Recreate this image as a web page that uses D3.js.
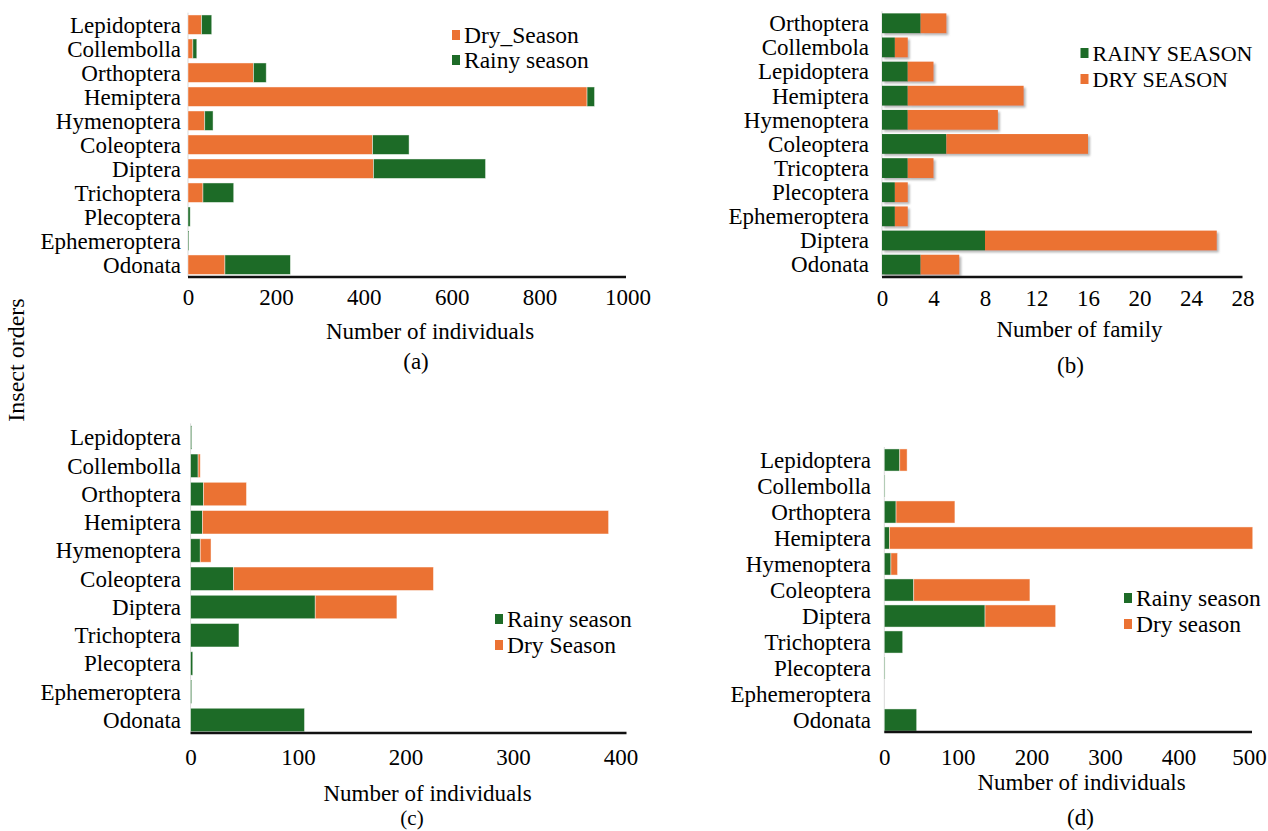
<!DOCTYPE html>
<html>
<head>
<meta charset="utf-8">
<script src="https://cdn.jsdelivr.net/npm/d3@7"></script>
<style>
  html, body { margin: 0; padding: 0; background: #fff; }
  svg { display: block; }
  text { font-family: "Liberation Serif", "DejaVu Serif", "Times New Roman", serif; fill: #000; }
</style>
</head>
<body>
<svg id="chart" width="1268" height="831"></svg>
<script>
// ---- Panel (a): total individuals per order ----
const ordersA = ["Lepidoptera", "Collembolla", "Orthoptera", "Hemiptera", "Hymenoptera",
  "Coleoptera", "Diptera", "Trichoptera", "Plecoptera", "Ephemeroptera", "Odonata"];
const dryA   = [31, 11, 149, 908, 38, 420, 422, 34, 0, 0, 84];
const rainyA = [23, 9, 29, 17, 19, 83, 255, 70, 5, 2, 149];
const ticksA = [0, 200, 400, 600, 800, 1000];

// ---- Panel (b): number of families per order ----
const ordersB = ["Orthoptera", "Collembola", "Lepidoptera", "Hemiptera", "Hymenoptera",
  "Coleoptera", "Tricoptera", "Plecoptera", "Ephemeroptera", "Diptera", "Odonata"];
const rainyB = [3, 1, 2, 2, 2, 5, 2, 1, 1, 8, 3];
const dryB   = [2, 1, 2, 9, 7, 11, 2, 1, 1, 18, 3];
const ticksB = [0, 4, 8, 12, 16, 20, 24, 28];

// ---- Panel (c): individuals, first site ----
const ordersC = ordersA;
const rainyC = [1, 7, 12, 11, 9, 40, 116, 45, 2, 1, 106];
const dryC   = [0, 2, 40, 378, 10, 186, 76, 0, 0, 0, 0];
const ticksC = [0, 100, 200, 300, 400];

// ---- Panel (d): individuals, second site ----
const ordersD = ordersA;
const rainyD = [21, 1, 16, 7, 9, 40, 137, 25, 1, 0, 44];
const dryD   = [10, 0, 80, 494, 9, 158, 96, 0, 0, 0, 0];
const ticksD = [0, 100, 200, 300, 400, 500];

const ORANGE = "#EB7233";
const GREEN = "#1D6B27";
const SERIF = '"Liberation Serif", "DejaVu Serif", "Times New Roman", serif';

const svg = d3.select("#chart");

// soft drop shadow used by panel (b)
const defs = svg.append("defs");
const shadow = defs.append("filter").attr("id", "barShadow")
  .attr("x", "-5%").attr("y", "-20%").attr("width", "115%").attr("height", "160%");
shadow.append("feDropShadow").attr("dx", 2).attr("dy", 2)
  .attr("stdDeviation", 1.2).attr("flood-color", "#7a7a7a").attr("flood-opacity", 0.55);

function drawPanel(cfg) {
  const g = svg.append("g");
  const rows = cfg.orders.map((name, i) => {
    const r = { name };
    cfg.series.forEach(s => { r[s.key] = s.values[i]; });
    return r;
  });
  const keys = cfg.series.map(s => s.key);
  const colorOf = Object.fromEntries(cfg.series.map(s => [s.key, s.color]));
  const stacked = d3.stack().keys(keys)(rows);

  const x = d3.scaleLinear().domain([0, cfg.max]).range([cfg.x0, cfg.x1]);
  const y = d3.scaleBand().domain(cfg.orders).range([cfg.yTop, cfg.yBottom])
    .paddingInner(cfg.pad).paddingOuter(cfg.pad / 2);

  // light vertical axis
  g.append("line")
    .attr("x1", x(0)).attr("x2", x(0))
    .attr("y1", cfg.yTop).attr("y2", cfg.yBottom)
    .attr("stroke", "#d9d9d9").attr("stroke-width", 1);

  const bars = g.append("g");
  if (cfg.shadow) bars.attr("filter", "url(#barShadow)");
  stacked.forEach(layer => {
    bars.append("g").attr("fill", colorOf[layer.key])
      .selectAll("rect").data(layer).join("rect")
      .attr("x", d => x(d[0]))
      .attr("y", d => y(d.data.name))
      .attr("width", d => Math.max(0, x(d[1]) - x(d[0])))
      .attr("height", y.bandwidth())
      .attr("stroke", cfg.shadow ? "none" : "rgba(255,255,255,0.55)")
      .attr("stroke-width", 0.8);
  });

  // category labels
  const yAxis = d3.axisLeft(y).tickSize(0).tickPadding(0);
  const ya = g.append("g").attr("transform", `translate(${cfg.labelRight},0)`).call(yAxis);
  ya.select(".domain").remove();
  ya.selectAll("text")
    .style("font-family", SERIF)
    .style("font-size", "23px").attr("fill", "#000").attr("dy", "0.34em");

  // bottom axis: heavy baseline, no tick marks
  const xAxis = d3.axisBottom(x).tickValues(cfg.ticks).tickSize(0).tickPadding(0)
    .tickFormat(d3.format("d"));
  const xa = g.append("g").attr("transform", `translate(0,${cfg.axisY})`).call(xAxis);
  xa.select(".domain").remove();
  xa.selectAll("text")
    .style("font-family", SERIF)
    .style("font-size", "23px").attr("fill", "#000")
    .attr("y", cfg.tickBase - cfg.axisY).attr("dy", 0);
  if (cfg.lastTickShift) {
    xa.selectAll(".tick").filter(d => d === cfg.max).select("text")
      .attr("dx", cfg.lastTickShift);
  }
  g.append("line")
    .attr("x1", x(0)).attr("x2", cfg.axisEnd)
    .attr("y1", cfg.axisY).attr("y2", cfg.axisY)
    .attr("stroke", "#111").attr("stroke-width", 2.6);

  // axis title and panel tag
  g.append("text").attr("x", cfg.titleX).attr("y", cfg.titleY)
    .attr("text-anchor", "middle").style("font-size", "23px").text(cfg.title);
  g.append("text").attr("x", cfg.tagX).attr("y", cfg.tagY)
    .attr("text-anchor", "middle").style("font-size", cfg.tagSize || "23px").text(cfg.tag);

  // legend
  const lg = g.append("g");
  cfg.legend.forEach((item, i) => {
    const ly = cfg.legendY[i];
    lg.append("rect").attr("x", cfg.legendX).attr("y", ly - 13)
      .attr("width", 8).attr("height", 10).attr("fill", item.color);
    lg.append("text").attr("x", cfg.legendX + 12).attr("y", ly)
      .style("font-size", cfg.legendSize).text(item.label);
  });
}

drawPanel({
  orders: ordersA, max: 1000, ticks: ticksA,
  series: [{ key: "dry", values: dryA, color: ORANGE }, { key: "rainy", values: rainyA, color: GREEN }],
  x0: 188, x1: 627.5, axisEnd: 626, yTop: 12.7, yBottom: 276.7, pad: 0.19,
  axisY: 277, tickBase: 305, labelRight: 181,
  title: "Number of individuals", titleX: 430, titleY: 339,
  tag: "(a)", tagX: 416, tagY: 369,
  legend: [{ label: "Dry_Season", color: ORANGE }, { label: "Rainy season", color: GREEN }],
  legendX: 452, legendY: [43, 68], legendSize: "23.5px"
});

drawPanel({
  orders: ordersB, max: 28, ticks: ticksB,
  series: [{ key: "rainy", values: rainyB, color: GREEN }, { key: "dry", values: dryB, color: ORANGE }],
  x0: 882, x1: 1242.5, axisEnd: 1242.5, yTop: 11.2, yBottom: 276.7, pad: 0.18,
  axisY: 277, tickBase: 306, labelRight: 869, shadow: true,
  title: "Number of family", titleX: 1079.5, titleY: 337,
  tag: "(b)", tagX: 1070.5, tagY: 373,
  legend: [{ label: "RAINY SEASON", color: GREEN }, { label: "DRY SEASON", color: ORANGE }],
  legendX: 1080.5, legendY: [61, 87], legendSize: "22px"
});

drawPanel({
  orders: ordersC, max: 400, ticks: ticksC,
  series: [{ key: "rainy", values: rainyC, color: GREEN }, { key: "dry", values: dryC, color: ORANGE }],
  x0: 190.6, x1: 620.4, axisEnd: 626.5, yTop: 423.4, yBottom: 734.1, pad: 0.17,
  axisY: 733, tickBase: 765, labelRight: 181,
  title: "Number of individuals", titleX: 427.5, titleY: 801,
  tag: "(c)", tagX: 412, tagY: 825, tagSize: "21px",
  legend: [{ label: "Rainy season", color: GREEN }, { label: "Dry Season", color: ORANGE }],
  legendX: 495, legendY: [627, 653], legendSize: "23.5px"
});

drawPanel({
  orders: ordersD, max: 500, ticks: ticksD,
  series: [{ key: "rainy", values: rainyD, color: GREEN }, { key: "dry", values: dryD, color: ORANGE }],
  x0: 884.3, x1: 1252, axisEnd: 1252, yTop: 447, yBottom: 733, pad: 0.15,
  axisY: 732, tickBase: 765, labelRight: 871, lastTickShift: -3,
  title: "Number of individuals", titleX: 1081.6, titleY: 790,
  tag: "(d)", tagX: 1080.5, tagY: 825,
  legend: [{ label: "Rainy season", color: GREEN }, { label: "Dry season", color: ORANGE }],
  legendX: 1124, legendY: [606, 632], legendSize: "23.5px"
});

// shared vertical title
svg.append("text")
  .attr("transform", "translate(24,360) rotate(-90)")
  .attr("text-anchor", "middle").style("font-size", "24px")
  .text("Insect orders");
</script>
</body>
</html>
